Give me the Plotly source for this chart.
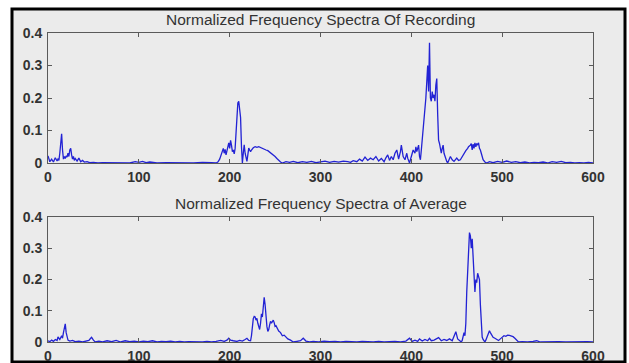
import plotly.graph_objects as go

# ---- Recording spectrum (top panel) ----
rec_freq = (
    [0, 2, 4, 6, 8, 10, 11, 12, 13, 14, 15, 16, 17, 18, 19, 20, 21, 22, 23, 24, 25, 26, 27, 28, 29, 30]
    + [32, 34, 36, 38, 40, 43, 46, 50, 55, 60, 70, 80, 90, 96, 100, 104, 108, 112, 120, 130, 140, 150, 160, 170, 176, 180, 185]
    + [187, 189, 191, 193, 194, 195, 196, 197, 198, 199, 200, 201, 202, 203, 204, 205, 206, 207, 208, 209, 210, 211, 212, 213, 214, 215, 216, 217, 218, 219, 220, 221, 222, 223]
    + [224, 226, 228, 230, 232, 234, 236, 238, 240, 242, 244, 246, 248, 250, 252, 254, 256, 258, 262, 266, 270, 275, 280, 285, 290, 295, 300, 305, 310, 315, 320, 325, 330]
    + [333, 336, 340, 343, 346, 349, 352, 355, 358, 361, 364, 367, 370, 372, 374, 376, 378, 380, 382, 384, 386, 388, 389, 391, 393, 395, 396, 398, 400, 402, 404, 405, 406, 407, 408, 409, 410, 411]
    + [412, 413, 414, 415, 416, 417, 418, 419, 420, 421, 422, 423, 424, 425, 426, 427, 428, 429, 430, 431, 432, 433, 434, 435, 436, 437, 438, 439, 440]
    + [442, 443, 445, 447, 450, 452, 454, 456, 458, 460, 462, 463, 465, 466, 467, 468, 469, 470, 471, 472, 473, 474, 475, 476, 477, 478, 479, 481, 483, 486, 490, 495, 500, 505, 510, 515, 520, 525, 530, 535, 540, 545, 550, 555, 560, 565, 570, 575, 580, 585, 590, 595, 600]
)
rec_amp = (
    [0.022, 0.004, 0.012, 0.003, 0.016, 0.006, 0.012, 0.008, 0.03, 0.07, 0.09, 0.04, 0.012, 0.02, 0.014, 0.022, 0.018, 0.03, 0.02, 0.04, 0.045, 0.025, 0.012, 0.02, 0.008, 0.014]
    + [0.006, 0.015, 0.004, 0.008, 0.003, 0.004, 0.001, 0.002, 0.0, 0.001, 0.0, 0.001, 0.0, 0.004, 0.002, 0.005, 0.001, 0.003, 0.0, 0.001, 0.0, 0.001, 0.0, 0.002, 0.0, 0.001, 0.0]
    + [0.003, 0.012, 0.03, 0.045, 0.03, 0.042, 0.025, 0.035, 0.05, 0.062, 0.045, 0.07, 0.055, 0.035, 0.04, 0.028, 0.045, 0.09, 0.16, 0.185, 0.19, 0.15, 0.14, 0.05, 0.0, 0.03, 0.056, 0.03, 0.01, 0.005, 0.025, 0.046, 0.04, 0.035]
    + [0.04, 0.047, 0.05, 0.048, 0.05, 0.047, 0.045, 0.043, 0.04, 0.038, 0.034, 0.03, 0.026, 0.02, 0.014, 0.008, 0.003, 0.0, 0.004, 0.002, 0.005, 0.001, 0.004, 0.002, 0.005, 0.001, 0.003, 0.006, 0.002, 0.005, 0.003, 0.006, 0.004]
    + [0.002, 0.007, 0.004, 0.012, 0.006, 0.018, 0.008, 0.015, 0.01, 0.02, 0.006, 0.014, 0.004, 0.016, 0.025, 0.008, 0.02, 0.01, 0.03, 0.04, 0.012, 0.035, 0.055, 0.02, 0.01, 0.03, 0.015, 0.0, 0.025, 0.04, 0.03, 0.05, 0.035, 0.045, 0.055, 0.02, 0.01, 0.04]
    + [0.07, 0.09, 0.13, 0.17, 0.2, 0.25, 0.3, 0.22, 0.37, 0.2, 0.19, 0.22, 0.2, 0.21, 0.19, 0.24, 0.26, 0.15, 0.07, 0.06, 0.04, 0.03, 0.045, 0.055, 0.03, 0.02, 0.01, 0.005, 0.0]
    + [0.015, 0.02, 0.01, 0.005, 0.015, 0.008, 0.01, 0.02, 0.03, 0.038, 0.045, 0.05, 0.055, 0.06, 0.04, 0.058, 0.045, 0.062, 0.05, 0.06, 0.055, 0.062, 0.045, 0.04, 0.03, 0.02, 0.01, 0.003, 0.0, 0.004, 0.001, 0.005, 0.002, 0.006, 0.002, 0.004, 0.001, 0.003, 0.0, 0.002, 0.001, 0.003, 0.0, 0.004, 0.002, 0.005, 0.001, 0.002, 0.0, 0.001, 0.0, 0.002, 0.0]
)

# ---- Average spectrum (bottom panel) ----
avg_freq = (
    [0, 2, 4, 6, 8, 10, 11, 13, 15, 16, 17, 18, 19, 20, 21, 22, 24, 27, 30, 34, 38, 42, 45, 47, 48, 50, 52, 56, 60]
    + [65, 70, 75, 80, 85, 90, 95, 100, 105, 110, 115, 120, 125, 130, 135, 140, 145, 150, 155, 160, 165, 170, 175, 180, 185, 190, 194, 197, 199, 201, 204, 208, 211, 214, 217, 219, 221, 223]
    + [224, 225, 226, 227, 228, 229, 230, 231, 232, 233, 234, 235, 236, 237, 238, 239, 240, 241, 242, 243, 244, 245, 246, 247, 248, 249, 250, 251, 252, 254, 256, 258, 260, 262, 264, 267, 270, 274, 278, 281, 284, 288]
    + [292, 298, 304, 310, 316, 322, 328, 334, 340, 346, 352, 358, 364, 370, 376, 382, 388, 394, 398, 401, 404, 407, 409, 412, 415, 418, 420, 422, 425, 428, 430, 433, 436, 439, 442, 445, 447, 449, 451, 453, 455]
    + [456, 457, 458, 459, 460, 461, 462, 463, 464, 465, 466, 467, 468, 469, 470, 471, 472, 473, 474, 475, 476, 477, 478, 479, 480, 481, 482, 483, 484, 485, 486, 487, 488, 490]
    + [492, 494, 496, 498, 500, 502, 504, 506, 508, 510, 512, 514, 516, 518, 522, 528, 534, 538, 542, 548, 555, 562, 570, 578, 586, 594, 600]
)
avg_amp = (
    [0.004, 0.001, 0.006, 0.002, 0.008, 0.005, 0.016, 0.008, 0.02, 0.012, 0.03, 0.045, 0.058, 0.03, 0.015, 0.006, 0.003, 0.005, 0.001, 0.003, 0.0, 0.004, 0.005, 0.012, 0.015, 0.006, 0.0, 0.003, 0.0]
    + [0.004, 0.001, 0.005, 0.0, 0.004, 0.001, 0.003, 0.0, 0.003, 0.001, 0.004, 0.0, 0.002, 0.001, 0.003, 0.0, 0.002, 0.0, 0.001, 0.0, 0.001, 0.0, 0.002, 0.0, 0.002, 0.005, 0.002, 0.006, 0.012, 0.006, 0.004, 0.002, 0.005, 0.003, 0.008, 0.012, 0.005, 0.004]
    + [0.02, 0.05, 0.075, 0.082, 0.08, 0.07, 0.076, 0.06, 0.045, 0.04, 0.06, 0.09, 0.08, 0.11, 0.143, 0.12, 0.08, 0.05, 0.034, 0.04, 0.055, 0.066, 0.06, 0.068, 0.07, 0.062, 0.05, 0.052, 0.045, 0.035, 0.03, 0.02, 0.022, 0.015, 0.01, 0.006, 0.0, 0.002, 0.004, 0.012, 0.003, 0.0]
    + [0.002, 0.0, 0.003, 0.001, 0.002, 0.0, 0.002, 0.001, 0.0, 0.002, 0.001, 0.0, 0.002, 0.0, 0.001, 0.002, 0.0, 0.003, 0.012, 0.002, 0.006, 0.002, 0.01, 0.003, 0.008, 0.004, 0.012, 0.004, 0.006, 0.012, 0.014, 0.004, 0.008, 0.005, 0.01, 0.004, 0.02, 0.033, 0.01, 0.004, 0.0]
    + [0.005, 0.02, 0.03, 0.02, 0.06, 0.16, 0.23, 0.3, 0.35, 0.34, 0.3, 0.33, 0.28, 0.21, 0.16, 0.2, 0.19, 0.22, 0.21, 0.2, 0.12, 0.07, 0.016, 0.008, 0.003, 0.0, 0.006, 0.015, 0.025, 0.03, 0.036, 0.03, 0.025, 0.015]
    + [0.012, 0.008, 0.005, 0.01, 0.016, 0.02, 0.018, 0.022, 0.021, 0.02, 0.017, 0.012, 0.006, 0.0, 0.001, 0.0, 0.002, 0.004, 0.0, 0.001, 0.0, 0.001, 0.0, 0.001, 0.0, 0.001, 0.0]
)

titles = ["Normalized Frequency Spectra Of Recording", "Normalized Frequency Spectra of Average"]
x_ticks = [0, 100, 200, 300, 400, 500, 600]
y_ticks = [0, 0.1, 0.2, 0.3, 0.4]
y_tick_text = ["0", "0.1", "0.2", "0.3", "0.4"]

LINE = "#2222d4"
BG = "#ebebeb"
AX = "#5a5a5a"
TXT = "#333333"

fig = go.Figure()
fig.add_trace(go.Scatter(x=rec_freq, y=rec_amp, mode="lines", line=dict(color=LINE, width=1.3),
                         xaxis="x", yaxis="y", showlegend=False))
fig.add_trace(go.Scatter(x=avg_freq, y=avg_amp, mode="lines", line=dict(color=LINE, width=1.3),
                         xaxis="x2", yaxis="y2", showlegend=False))

W, H = 629, 363
L, R, T, B = 48, 36, 33, 21
pw, ph = W - L - R, H - T - B


def px2x(p):
    return (p - L) / pw


def py2y(p):
    return (H - B - p) / ph


top_dom = [py2y(163), 1.0]
bot_dom = [0.0, py2y(217)]

tickfont = dict(family="Liberation Sans, Arial, sans-serif", size=14, color=TXT, weight="bold")
common_x = dict(range=[0, 600], tickvals=x_ticks, ticks="inside", ticklen=4, tickcolor=AX,
                showline=True, linecolor=AX, linewidth=1, mirror="ticks", showgrid=False,
                zeroline=False, tickfont=tickfont, fixedrange=True, ticklabelstandoff=1,
                automargin=False)
common_y = dict(range=[0, 0.4], tickvals=y_ticks, ticktext=y_tick_text, ticks="inside", ticklen=4,
                tickcolor=AX, showline=True, linecolor=AX, linewidth=1, mirror="ticks",
                showgrid=False, zeroline=False, tickfont=tickfont, fixedrange=True,
                ticklabelstandoff=2, automargin=False)

title_font = dict(family="Liberation Sans, Arial, sans-serif", size=15.5, color=TXT)

fig.update_layout(
    width=W, height=H,
    margin=dict(l=L, r=R, t=T, b=B, pad=0, autoexpand=False),
    paper_bgcolor="white",
    plot_bgcolor=BG,
    xaxis=dict(common_x, domain=[0, 1], anchor="y"),
    yaxis=dict(common_y, domain=top_dom, anchor="x"),
    xaxis2=dict(common_x, domain=[0, 1], anchor="y2"),
    yaxis2=dict(common_y, domain=bot_dom, anchor="x2"),
    shapes=[dict(type="rect", xref="paper", yref="paper",
                 x0=px2x(12), x1=px2x(625), y0=py2y(362), y1=py2y(9),
                 line=dict(color="black", width=3), fillcolor=BG, layer="below")],
    annotations=[
        dict(text=titles[0], xref="paper", yref="paper", x=0.5, y=py2y(20), showarrow=False,
             xanchor="center", yanchor="middle", font=title_font),
        dict(text=titles[1], xref="paper", yref="paper", x=0.5, y=py2y(203), showarrow=False,
             xanchor="center", yanchor="middle", font=title_font),
    ],
)

fig.write_html("out.html")
